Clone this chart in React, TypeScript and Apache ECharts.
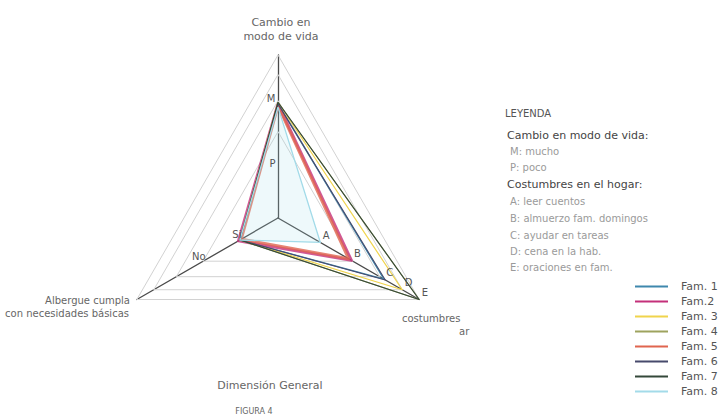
import React, { useEffect, useRef } from 'react';
import * as echarts from 'echarts';

const FONT = 'DejaVu Sans';

// Radar axes (counter-clockwise from the top)
const indicatorNames = ['Cambio en modo de vida', 'Albergue cumpla con necesidades básicas', 'Costumbres en el hogar'];
const indicatorMax = [10, 10, 10];

// Families
const famNames = ['Fam. 1', 'Fam.2', 'Fam. 3', 'Fam. 4', 'Fam. 5', 'Fam. 6', 'Fam. 7', 'Fam. 8'];
const famColors = ['#3f88ad', '#c4307a', '#f0d44c', '#9ea35e', '#e0654f', '#474a6c', '#34483a', '#a3dbe9'];
const famWidths = [1.3, 3, 1.2, 1.2, 3, 1.1, 1.1, 1.3];
const cambioValues = [7.0, 7.0, 7.1, 7.1, 6.9, 7.0, 7.1, 6.8];
const albergueValues = [2.7, 2.8, 2.7, 2.7, 2.6, 2.7, 2.7, 2.7];
const costumbresValues = [7.5, 5.2, 8.8, 10, 5.0, 7.6, 10, 3.0];

// Light grid triangles
const gridLevels = [5.3, 7.2, 8.8, 10];

// Tick labels on each axis
const cambioTickLabels = ['M', 'P'];
const cambioTickValues = [7.1, 3.1];
const albergueTickLabels = ['Si', 'No'];
const albergueTickValues = [2.7, 5.4];
const costumbresTickLabels = ['A', 'B', 'C', 'D', 'E'];
const costumbresTickValues = [3.0, 5.2, 7.5, 8.8, 10];

// Legend texts
const legendTitle = 'LEYENDA';
const legendLines = [
  { text: 'Cambio en modo de vida:', head: true },
  { text: 'M: mucho', head: false },
  { text: 'P: poco', head: false },
  { text: 'Costumbres en el hogar:', head: true },
  { text: 'A: leer cuentos', head: false },
  { text: 'B: almuerzo fam. domingos', head: false },
  { text: 'C: ayudar en tareas', head: false },
  { text: 'D: cena en la hab.', head: false },
  { text: 'E: oraciones en fam.', head: false },
];

export default function App() {
  const ref = useRef<HTMLDivElement>(null);

  useEffect(() => {
    if (!ref.current) return;
    const chart = echarts.init(ref.current, undefined, { renderer: 'svg' });

    const tickItems: any[] = [
      ...cambioTickLabels.map((l, i) => ({
        name: l,
        value: [cambioTickValues[i], 0, 0],
        label: { position: 'left', distance: 2, offset: [0, -4] },
      })),
      ...albergueTickLabels.map((l, i) => ({
        name: l,
        value: [0, albergueTickValues[i], 0],
        label: { position: 'top', distance: 0, offset: [-3, 0] },
      })),
      ...costumbresTickLabels.map((l, i) => ({
        name: l,
        value: [0, 0, costumbresTickValues[i]],
        label: { position: 'right', distance: 2, offset: [0, -7] },
      })),
    ];

    const famSeries = famNames.map((n, i) => ({
      type: 'radar',
      name: n,
      symbol: 'none',
      z: 3,
      lineStyle: { color: famColors[i], width: famWidths[i], opacity: famWidths[i] > 2 ? 0.8 : 1 },
      itemStyle: { color: famColors[i] },
      areaStyle: i === 7 ? { color: famColors[i], opacity: 0.18 } : undefined,
      data: [{ name: n, value: [cambioValues[i], albergueValues[i], costumbresValues[i]] }],
    }));

    const textEl = (text: string, x: number, y: number, size: number, color: string, align = 'left', weight = 'normal') => ({
      type: 'text',
      x,
      y,
      style: { text, fill: color, font: `${weight} ${size}px "${FONT}"`, textAlign: align, textVerticalAlign: 'middle' },
    });

    const legendY = [135, 151, 167, 184, 201, 218, 235, 251, 267];

    chart.setOption({
      animation: false,
      backgroundColor: '#ffffff',
      textStyle: { fontFamily: FONT },
      legend: {
        data: famNames,
        orient: 'vertical',
        left: 635,
        top: 280,
        padding: 0,
        itemWidth: 33,
        itemHeight: 2,
        itemGap: 2,
        icon: 'rect',
        textStyle: { fontSize: 11, color: '#555', fontFamily: FONT, lineHeight: 13, padding: [0, 0, 0, 8] },
      },
      radar: {
        center: [278, 218],
        radius: 163,
        startAngle: 90,
        shape: 'polygon',
        indicator: indicatorNames.map((n, i) => ({ name: n, min: 0, max: indicatorMax[i] })),
        axisName: { show: false },
        splitLine: { show: false },
        splitArea: { show: false },
        axisTick: { show: false },
        axisLabel: { show: false },
        axisLine: { show: true, lineStyle: { color: '#4a4a4a', width: 1.3 } },
      },
      series: [
        {
          type: 'radar',
          name: 'grid',
          symbol: 'none',
          silent: true,
          z: 1,
          lineStyle: { color: '#d2d2d2', width: 1 },
          data: gridLevels.map((v) => ({ value: [v, v, v] })),
        },
        ...famSeries,
        {
          type: 'radar',
          name: 'ticks',
          silent: true,
          z: 5,
          symbol: 'circle',
          symbolSize: 1,
          itemStyle: { color: 'rgba(0,0,0,0)' },
          lineStyle: { width: 0, opacity: 0 },
          label: {
            show: true,
            color: '#555',
            fontSize: 10,
            fontFamily: FONT,
            formatter: (p: any) => (typeof p.value === 'number' && p.value > 0 ? p.name : ''),
          },
          data: tickItems,
        },
      ],
      graphic: [
        textEl('Cambio en', 281, 22, 11, '#666', 'center'),
        textEl('modo de vida', 281, 36, 11, '#666', 'center'),
        textEl('Albergue cumpla', 130, 300, 10, '#666', 'right'),
        textEl('con necesidades básicas', 129, 313, 10, '#666', 'right'),
        textEl('costumbres', 402, 318, 10, '#666', 'left'),
        textEl('ar', 459, 331, 10, '#666', 'left'),
        textEl('Dimensión General', 270, 385, 11, '#666', 'center'),
        textEl('FIGURA 4', 254, 411, 8, '#666', 'center'),
        textEl(legendTitle, 505, 113, 10, '#555', 'left'),
        ...legendLines.map((l, i) =>
          textEl(l.text, l.head ? 507 : 510, legendY[i], l.head ? 11 : 10, l.head ? '#444' : '#9a9a9a', 'left')
        ),
      ],
    });

    return () => chart.dispose();
  }, []);

  return <div ref={ref} style={{ position: 'fixed', left: 0, top: 0, width: 727, height: 418 }} />;
}
